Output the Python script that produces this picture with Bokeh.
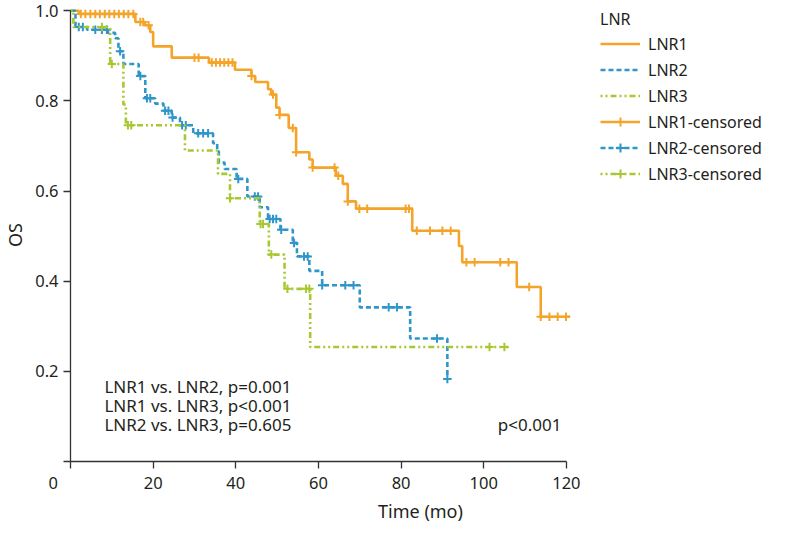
import numpy as np
from bokeh.plotting import figure
from bokeh.models import Range1d, Legend, LegendItem, Label, FixedTicker
from bokeh.embed import file_html
from bokeh.resources import INLINE

# ---------------- data ----------------
groups = ["LNR1", "LNR2", "LNR3"]
colors = {"LNR1": "#F5A42A", "LNR2": "#2E96C8", "LNR3": "#A8C832"}
dashes = {"LNR1": "solid", "LNR2": "5 3", "LNR3": "2 3 2 3 6 3"}

lnr1_times = [0, 2.0, 15.7, 18.0, 19.3, 20.0, 24.5, 33.5, 39.8, 43.8, 44.7, 47.8, 48.6,
              49.8, 50.6, 52.8, 54.6, 57.8, 58.6, 64.2, 65.9, 67.1, 69.1, 82.7, 94.0,
              94.8, 108.0, 113.8]
lnr1_surv = [1.0, 0.993, 0.975, 0.968, 0.953, 0.921, 0.896, 0.885, 0.869, 0.855, 0.842,
             0.826, 0.814, 0.785, 0.769, 0.740, 0.686, 0.670, 0.652, 0.634, 0.616, 0.577,
             0.561, 0.512, 0.478, 0.442, 0.387, 0.321]
lnr1_censor = [2.5, 3.6, 4.8, 6.0, 7.1, 8.3, 9.4, 10.6, 11.7, 12.9, 14.0, 15.2, 16.9, 17.6,
               18.9, 30.0, 31.0, 34.2, 35.2, 36.2, 37.2, 38.2, 39.2, 43.8, 49.0, 50.6,
               53.8, 54.6, 58.6, 63.9, 64.8, 67.1, 69.9, 71.8, 81.1, 81.9, 83.8, 87.0,
               90.0, 92.0, 95.8, 97.8, 104.0, 106.0, 111.0, 113.8, 115.9, 117.9, 119.9]
lnr1_end = 120.9

lnr2_times = [0, 1.2, 4.0, 9.0, 10.8, 11.6, 12.8, 16.5, 18.1, 20.5, 22.5, 24.5, 26.5, 29.7,
              34.5, 35.5, 35.9, 37.3, 40.2, 42.8, 45.8, 47.8, 50.8, 53.8, 54.8, 57.8,
              60.9, 70.0, 82.2, 91.2]
lnr2_surv = [1.0, 0.964, 0.958, 0.951, 0.939, 0.910, 0.882, 0.855, 0.806, 0.794, 0.778,
             0.763, 0.746, 0.728, 0.706, 0.688, 0.663, 0.649, 0.627, 0.588, 0.564, 0.538,
             0.514, 0.485, 0.455, 0.423, 0.391, 0.342, 0.273, 0.183]
lnr2_censor = [2.0, 3.0, 6.0, 7.6, 8.8, 12.0, 16.9, 18.5, 19.3, 22.9, 23.7, 24.7, 27.0,
               27.9, 30.9, 32.1, 33.3, 40.6, 44.6, 45.4, 48.2, 49.0, 49.8, 51.0, 54.1,
               56.5, 57.4, 60.9, 66.5, 68.5, 77.0, 79.0, 88.7, 91.2]
lnr2_end = 91.2

lnr3_times = [0, 0.7, 9.6, 12.8, 13.4, 27.7, 35.7, 38.6, 45.8, 48.0, 51.8, 58.0]
lnr3_surv = [1.0, 0.964, 0.882, 0.792, 0.746, 0.690, 0.638, 0.584, 0.527, 0.459, 0.383, 0.254]
lnr3_censor = [7.6, 10.0, 13.9, 14.7, 38.6, 46.0, 46.6, 48.6, 52.5, 57.0, 57.8, 101.4, 105.0]
lnr3_end = 106.0

x_ticks = [0, 20, 40, 60, 80, 100, 120]
y_ticks = [0, 0.2, 0.4, 0.6, 0.8, 1.0]
origin_label = "0"
pair_texts = ["LNR1 vs. LNR2, p=0.001", "LNR1 vs. LNR3, p<0.001", "LNR2 vs. LNR3, p=0.605"]
pair_y = [0.167, 0.124, 0.081]
overall_text = "p<0.001"

series = {
    "LNR1": (lnr1_times, lnr1_surv, lnr1_censor, lnr1_end),
    "LNR2": (lnr2_times, lnr2_surv, lnr2_censor, lnr2_end),
    "LNR3": (lnr3_times, lnr3_surv, lnr3_censor, lnr3_end),
}

FONT = "Noto Sans"
TXT = "#231F20"

p = figure(width=770, height=525, x_range=Range1d(0, 169.4), y_range=Range1d(0, 1.005),
           output_backend="svg", toolbar_location=None,
           min_border_left=67, min_border_right=0, min_border_top=8, min_border_bottom=59)
p.grid.visible = False
p.outline_line_color = None
p.background_fill_color = "white"

for ax in (p.xaxis[0], p.yaxis[0]):
    ax.axis_line_color = "#333333"
    ax.axis_line_width = 1.3
    ax.major_tick_line_color = "#333333"
    ax.major_tick_line_width = 1.3
    ax.major_tick_out = 7
    ax.major_tick_in = 0
    ax.minor_tick_line_color = None
    ax.major_label_text_font = FONT
    ax.major_label_text_font_size = "16.5px"
    ax.major_label_text_color = TXT
    ax.axis_label_text_font = FONT
    ax.axis_label_text_font_size = "18px"
    ax.axis_label_text_font_style = "normal"
    ax.axis_label_text_color = TXT

p.xaxis.ticker = FixedTicker(ticks=x_ticks)
p.yaxis.ticker = FixedTicker(ticks=y_ticks)
p.xaxis.bounds = (0, 120)
p.yaxis.bounds = (0, 1)
# shared origin label "0" sits left of the y axis: pad with no-break spaces
p.xaxis.major_label_overrides = {0: origin_label + "\u00a0" * 8}
p.yaxis.major_label_overrides = {0: "", 1: "1.0"}
p.xaxis.axis_label = "Time (mo)"
p.yaxis.axis_label = "OS"
p.xaxis.major_label_standoff = 2
p.xaxis.axis_label_standoff = 2
p.yaxis.major_label_standoff = 5
p.yaxis.axis_label_standoff = 5

line_r = {}
cens_r = {}
for g in groups:
    t, s, c, end = series[g]
    xs = list(t) + [end]
    ys = list(s) + [s[-1]]
    line_r[g] = p.step(xs, ys, mode="after", line_color=colors[g], line_width=2.6,
                       line_dash=dashes[g])
    tt = np.array(t)
    ss = np.array(s)
    idx = np.searchsorted(tt, np.array(c), side="right") - 1
    cy = ss[idx]
    cens_r[g] = p.scatter(c, cy, marker="cross", size=8.5, line_color=colors[g],
                          line_width=2)

items = [LegendItem(label=g, renderers=[line_r[g]]) for g in groups]
items += [LegendItem(label=g + "-censored", renderers=[line_r[g], cens_r[g]]) for g in groups]
legend = Legend(items=items, location=(530, 276), title="LNR",
                label_text_font=FONT, label_text_font_size="16px", label_text_color=TXT,
                title_text_font=FONT, title_text_font_size="16px", title_text_color=TXT,
                title_text_font_style="normal", title_standoff=2,
                glyph_width=40, glyph_height=23, label_height=23, label_standoff=8,
                spacing=3, padding=0, margin=0,
                border_line_color=None, background_fill_alpha=0)
p.add_layout(legend, "center")

for txt, yy in zip(pair_texts, pair_y):
    p.add_layout(Label(x=8.2, y=yy, text=txt, text_font=FONT, text_font_size="17px",
                       text_color=TXT, text_baseline="middle", text_align="left"))
p.add_layout(Label(x=118.8, y=pair_y[-1], text=overall_text, text_font=FONT,
                   text_font_size="17px", text_color=TXT, text_baseline="middle",
                   text_align="right"))

open("out.html", "w").write(file_html(p, INLINE))
